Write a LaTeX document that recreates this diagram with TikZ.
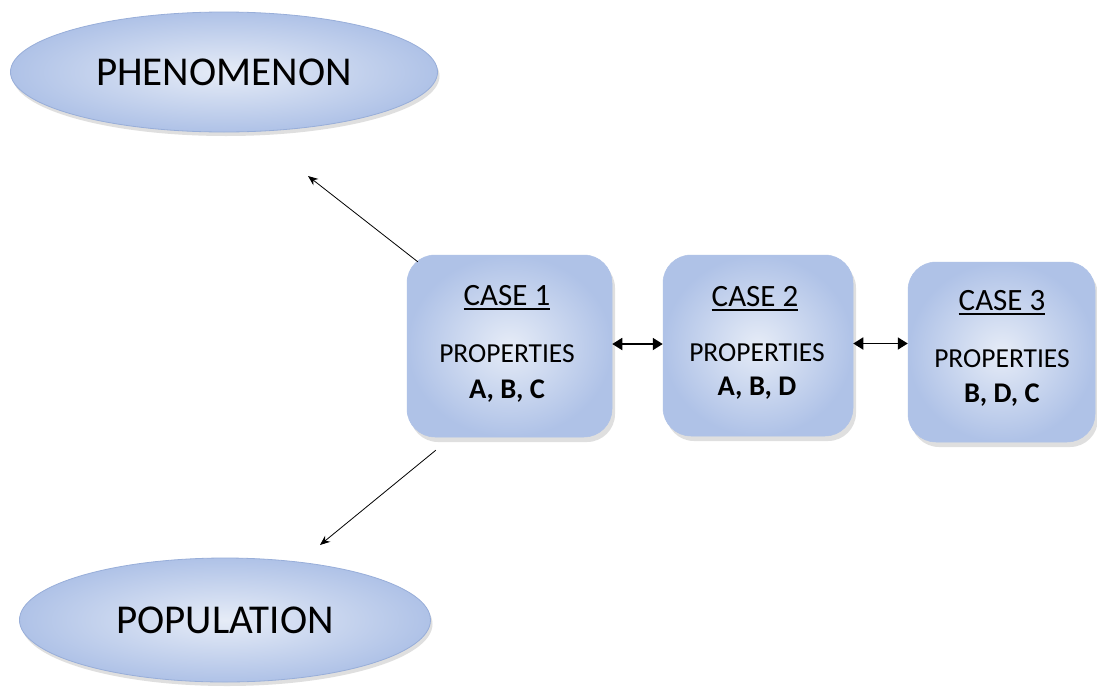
\documentclass[tikz,border=0pt]{standalone}
\usepackage{fontspec}
\setmainfont{Carlito}
\usetikzlibrary{shapes.geometric,shadows,arrows.meta,calc}
\definecolor{edgeblue}{HTML}{AFC2E7}
\definecolor{coreblue}{HTML}{E6ECF7}
\definecolor{lineblue}{HTML}{98AED9}
\newcommand{\myul}[1]{\setbox0\hbox{#1}\rlap{\copy0}\rule[-4.5pt]{\wd0}{1.8pt}}
\tikzset{
  oval/.style={ellipse, draw=lineblue, line width=0.8pt, inner sep=0pt,
    inner color=coreblue, outer color=edgeblue,
    drop shadow={shadow xshift=2pt, shadow yshift=-4pt, opacity=0.25, fill=gray},
    font=\fontsize{41}{49}\selectfont},
  casebox/.style={rectangle, rounded corners=28pt, draw=edgeblue, line width=0.5pt,
    inner color=coreblue, outer color=edgeblue,
    drop shadow={shadow xshift=3pt, shadow yshift=-5pt, opacity=0.25, fill=gray}},
  title/.style={font=\fontsize{31}{37}\selectfont, inner sep=0pt},
  prop/.style={font=\fontsize{27.5}{33}\selectfont, inner sep=0pt},
  vals/.style={font=\fontsize{28.5}{34}\selectfont\bfseries, inner sep=0pt},
  thin/.style={draw=black, line width=0.8pt, -{Stealth[length=10pt,width=8pt]}},
  dbl/.style={draw=black, line width=1.8pt, {Triangle[length=10pt,width=12pt]}-{Triangle[length=10pt,width=12pt]}}
}
\begin{document}
\begin{tikzpicture}[x=1pt,y=-1pt]
\useasboundingbox[fill=white] (0,0) rectangle (1097,691);
% ellipses
\node[oval, minimum width=427pt, minimum height=120pt] (phen) at (224,72) {PHENOMENON};
\node[oval, minimum width=411pt, minimum height=124pt] (pop) at (225,620) {POPULATION};
% boxes
\node[casebox, minimum width=205pt, minimum height=182pt] (c1) at (509.5,346) {};
\node[casebox, minimum width=190pt, minimum height=181pt] (c2) at (758,345.5) {};
\node[casebox, minimum width=187pt, minimum height=180pt] (c3) at (1001.5,352) {};
% texts
\node[title, anchor=base] (c1t) at (507,305) {\myul{CASE 1}};
\node[prop, anchor=base] (c1p) at (507,362) {PROPERTIES};
\node[vals, anchor=base] (c1v) at (507,398) {A, B, C};
\node[title, anchor=base] (c2t) at (755,306) {\myul{CASE 2}};
\node[prop, anchor=base] (c2p) at (757,361) {PROPERTIES};
\node[vals, anchor=base] (c2v) at (757,395) {A, B, D};
\node[title, anchor=base] (c3t) at (1002,310) {\myul{CASE 3}};
\node[prop, anchor=base] (c3p) at (1002,367) {PROPERTIES};
\node[vals, anchor=base] (c3v) at (1002,402) {B, D, C};
% connectors
\coordinate (pe) at (308,176);
\coordinate (po) at (320,545);
\draw[thin] ($(c1.north west)+(11,7)$) -- (pe);
\draw[thin] ($(c1.south west)+(29,13)$) -- (po);
\draw[dbl] ($(c1.east)+(0,-2)$) -- ($(c1.east -| c2.west)+(0,-2)$);
\draw[dbl] ($(c2.east)+(0,-2)$) -- ($(c2.east -| c3.west)+(0,-2)$);
\end{tikzpicture}
\end{document}
